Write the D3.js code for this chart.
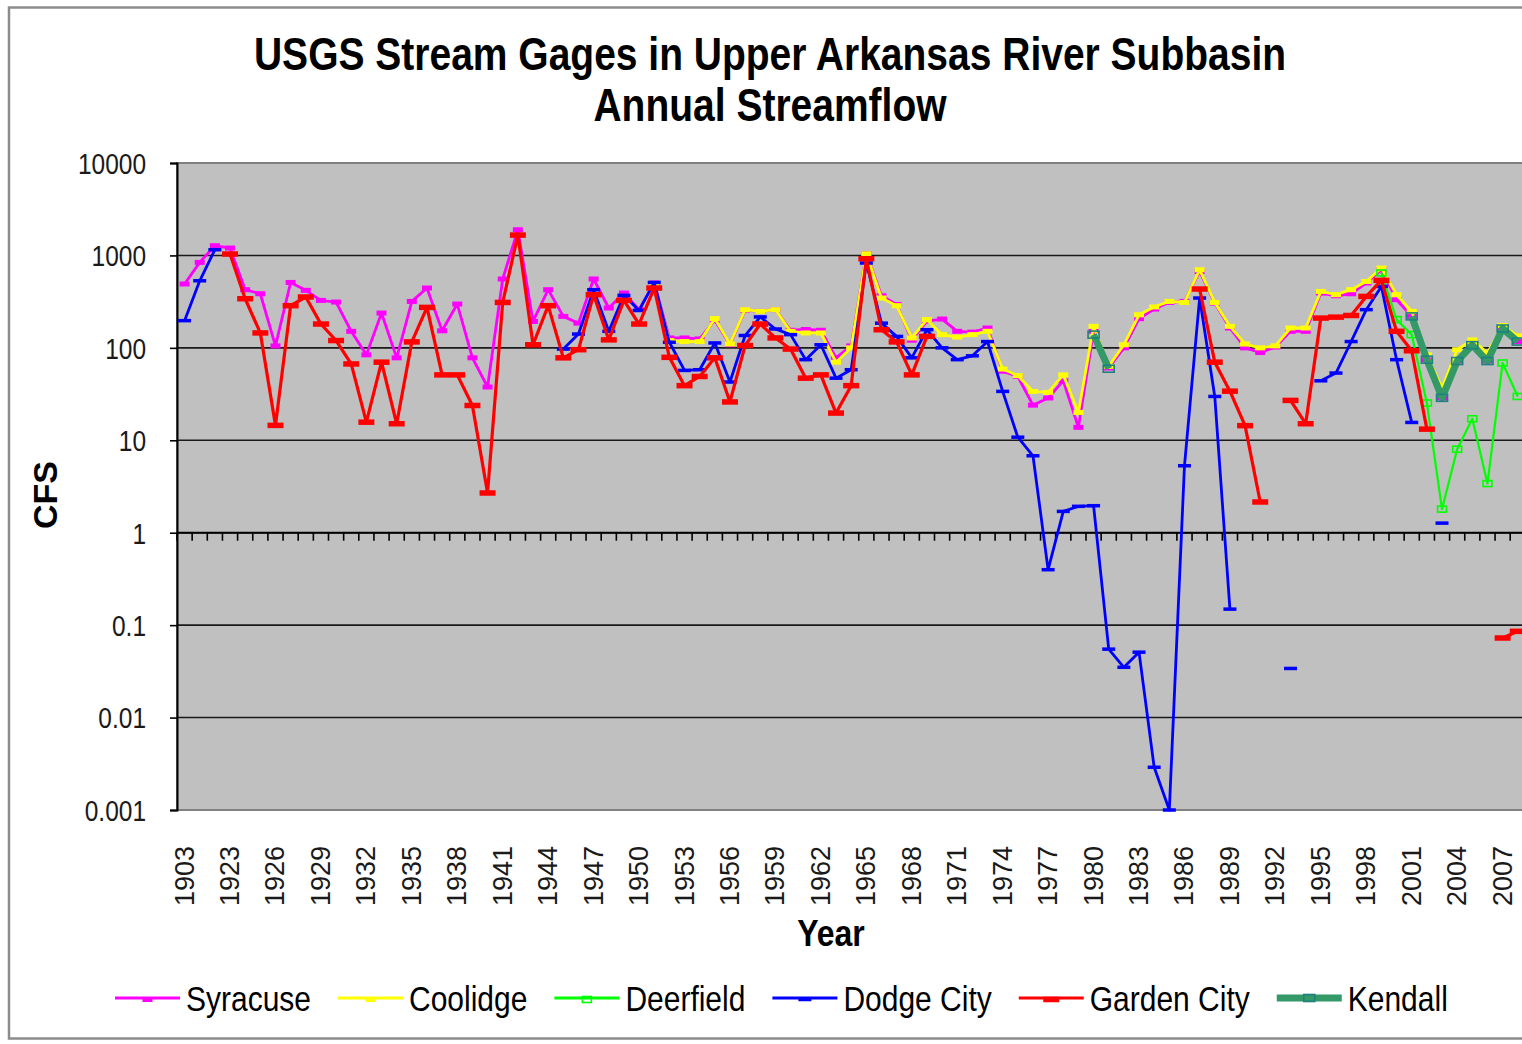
<!DOCTYPE html>
<html>
<head>
<meta charset="utf-8">
<script src="https://cdn.jsdelivr.net/npm/d3@7"></script>
<style>
  body { margin: 0; background: #fff; overflow: hidden; }
  text { font-family: "Liberation Sans", Arial, sans-serif; }
</style>
</head>
<body>
<script>
//Define data
let years = [
  '1903', '1904', '1922', '1923', '1924', '1925', '1926', '1927', '1928', '1929',
  '1930', '1931', '1932', '1933', '1934', '1935', '1936', '1937', '1938', '1939',
  '1940', '1941', '1942', '1943', '1944', '1945', '1946', '1947', '1948', '1949',
  '1950', '1951', '1952', '1953', '1954', '1955', '1956', '1957', '1958', '1959',
  '1960', '1961', '1962', '1963', '1964', '1965', '1966', '1967', '1968', '1969',
  '1970', '1971', '1972', '1973', '1974', '1975', '1976', '1977', '1978', '1979',
  '1980', '1981', '1982', '1983', '1984', '1985', '1986', '1987', '1988', '1989',
  '1990', '1991', '1992', '1993', '1994', '1995', '1996', '1997', '1998', '1999',
  '2000', '2001', '2002', '2003', '2004', '2005', '2006', '2007', '2008'
]

let syracuse = [
  491, 841, 1274, 1203, 426, 385, 105, 510, 419, 326,
  313, 151, 84, 238, 78, 318, 444, 153, 298, 78,
  37.7, 556, 1897, 193, 426, 219, 185, 556, 270, 392,
  259, 503, 128, 128, 125, 200, 108, 256, 248, 259,
  155, 158, 155, 78, 105, 1050, 366, 295, 121, 195,
  205, 151, 148, 164, 56, 49, 24, 28.7, 44, 13.8,
  151, 60.5, 100, 207, 263, 310, 318, 671, 305, 164,
  100, 89, 102, 151, 151, 392, 366, 385, 503, 700,
  332, 219, 74.5, 28.7, 72, 108, 72, 164, 117
]

let coolidge = [
  null, null, null, null, null, null, null, null, null, null,
  null, null, null, null, null, null, null, null, null, null,
  null, null, null, null, null, null, null, null, null, null,
  null, 480, 120, 117, 117, 207, 110, 259, 248, 259,
  151, 145, 145, 70, 100, 1043, 346, 286, 128, 202,
  139, 131, 139, 151, 59, 50, 33.8, 33, 51, 20,
  171, 63, 108, 228, 277, 318, 310, 700, 310, 171,
  110, 100, 105, 164, 164, 408, 376, 426, 523, 731,
  376, 248, 84, 36.8, 95.5, 122, 88, 174, 135
]

let deerfield = [
  null, null, null, null, null, null, null, null, null, null,
  null, null, null, null, null, null, null, null, null, null,
  null, null, null, null, null, null, null, null, null, null,
  null, null, null, null, null, null, null, null, null, null,
  null, null, null, null, null, null, null, null, null, null,
  null, null, null, null, null, null, null, null, null, null,
  null, null, null, null, null, null, null, null, null, null,
  null, null, null, null, null, null, null, null, null, 646,
  202, 139, 25.3, 1.8, 8.0, 17.1, 3.4, 68.6, 29.8
]

let dodgeCity = [
  197, 532, 1153, null, null, null, null, null, null, null,
  null, null, null, null, null, null, null, null, null, null,
  null, null, null, null, null, 97, 141, 426, 151, 370,
  254, 510, 115, 57, 58, 113, 42.7, 136, 216, 160,
  139, 74.5, 108, 47, 58, 828, 185, 133, 78, 157,
  100, 74.5, 82, 117, 33.8, 10.8, 6.8, 0.398, 1.7, 1.93,
  1.96, 0.055, 0.035, 0.051, 0.0029, 0.001, 5.3, 346, 29.8, 0.149,
  null, null, null, 0.034, null, 44, 53.4, 117, 259, 462,
  74.5, 15.6, null, 1.27, null, null, null, null, null
]

let gardenCity = [
  null, null, null, 1036, 340, 145, 14.5, 286, 355, 181,
  120, 67, 15.7, 70, 15.1, 116, 274, 51, 51, 23.8,
  2.69, 310, 1660, 108, 286, 78, 95.5, 376, 122, 326,
  181, 444, 79, 39, 49, 78, 26, 106, 181, 128,
  97, 47, 51, 19.7, 39, 921, 157, 116, 51, 133,
  null, null, null, null, null, null, null, null, null, null,
  null, null, null, null, null, null, null, 433, 70, 34,
  14.4, 2.15, null, 27, 15.1, 210, 215, 224, 360, 537,
  151, 93, 13.2, null, null, null, null, 0.0726, 0.0857
]

let kendall = [
  null, null, null, null, null, null, null, null, null, null,
  null, null, null, null, null, null, null, null, null, null,
  null, null, null, null, null, null, null, null, null, null,
  null, null, null, null, null, null, null, null, null, null,
  null, null, null, null, null, null, null, null, null, null,
  null, null, null, null, null, null, null, null, null, null,
  139, 59.5, null, null, null, null, null, null, null, null,
  null, null, null, null, null, null, null, null, null, null,
  null, 219, 74.5, 28.8, 72, 107, 72, 162, 117
]

let yTicks = [0.001, 0.01, 0.1, 1, 10, 100, 1000, 10000]
let yTickLabels = ['0.001', '0.01', '0.1', '1', '10', '100', '1000', '10000']

let width = 1522,
    height = 1044

let plot = { left: 177, top: 163, bottom: 810, band: 15.15 }
plot.right = plot.left + plot.band * years.length

// the text in the picture is drawn tall and narrow
let squash = 'scale(1,1.18)'

let svg = d3.select('body')
            .append('svg')
            .attr('width', width)
            .attr('height', height)

// chart frame
svg.append('rect')
  .attr('x', 9).attr('y', 7.5)
  .attr('width', 1700).attr('height', 1031)
  .attr('fill', 'white')
  .attr('stroke', '#8c8c8c')
  .attr('stroke-width', 2.5)

let xscale = d3.scaleBand()
              .domain(years)
              .range([plot.left, plot.right])

let yscale = d3.scaleLog()
              .domain([0.001, 10000])
              .range([plot.bottom, plot.top])

// plot area
svg.append('rect')
  .attr('x', plot.left).attr('y', plot.top)
  .attr('width', plot.right - plot.left)
  .attr('height', plot.bottom - plot.top)
  .attr('fill', '#c0c0c0')
  .attr('stroke', '#808080')
  .attr('stroke-width', 2)

// gridlines
svg.append('g')
  .selectAll('line')
  .data(yTicks.slice(1, -1))
  .join('line')
  .attr('x1', plot.left).attr('x2', plot.right)
  .attr('y1', d => yscale(d)).attr('y2', d => yscale(d))
  .attr('stroke', '#1a1a1a')
  .attr('stroke-width', 1.6)

// y axis
let yaxis = svg.append('g')
              .attr('transform', `translate(${plot.left},0)`)
              .call(d3.axisLeft(yscale)
                .tickValues(yTicks)
                .tickFormat((d, i) => yTickLabels[i])
                .tickSize(7)
                .tickPadding(24))
yaxis.select('.domain').attr('stroke', '#000').attr('stroke-width', 2)
yaxis.selectAll('.tick line').attr('stroke', '#000').attr('stroke-width', 1.6)
yaxis.selectAll('.tick text')
  .attr('font-size', 24.5)
  .attr('fill', '#1a1a1a')
  .attr('dy', '0.36em')
  .attr('transform', squash)

// category axis crosses at 1
let xAxisY = yscale(1)
svg.append('line')
  .attr('x1', plot.left).attr('x2', plot.right)
  .attr('y1', xAxisY).attr('y2', xAxisY)
  .attr('stroke', '#000').attr('stroke-width', 2)

svg.append('g')
  .selectAll('line')
  .data(years.concat(['end']))
  .join('line')
  .attr('x1', d => d === 'end' ? plot.right : xscale(d))
  .attr('x2', d => d === 'end' ? plot.right : xscale(d))
  .attr('y1', xAxisY).attr('y2', xAxisY + 8)
  .attr('stroke', '#000').attr('stroke-width', 1.6)

// category labels, every third
svg.append('g')
  .selectAll('text')
  .data(years.filter((d, i) => i % 3 === 0))
  .join('text')
  .text(d => d)
  .attr('transform', d => `translate(${xscale(d) + xscale.bandwidth() / 2 + 9},846) rotate(-90)`)
  .attr('text-anchor', 'end')
  .attr('font-size', 27)
  .attr('fill', '#1a1a1a')

// titles
svg.append('text')
  .text('USGS Stream Gages in Upper Arkansas River Subbasin')
  .attr('transform', `translate(770,70) ${squash}`)
  .attr('text-anchor', 'middle')
  .attr('font-size', 39)
  .attr('font-weight', 'bold')

svg.append('text')
  .text('Annual Streamflow')
  .attr('transform', `translate(770,121) ${squash}`)
  .attr('text-anchor', 'middle')
  .attr('font-size', 39)
  .attr('font-weight', 'bold')

svg.append('text')
  .text('Year')
  .attr('transform', `translate(831,946) ${squash}`)
  .attr('text-anchor', 'middle')
  .attr('font-size', 32)
  .attr('font-weight', 'bold')

svg.append('text')
  .text('CFS')
  .attr('transform', 'translate(57,495) rotate(-90)')
  .attr('text-anchor', 'middle')
  .attr('font-size', 34)
  .attr('font-weight', 'bold')

// series
let series = [
  { name: 'Syracuse', values: syracuse, color: '#ff00ff', lw: 2.8, marker: { w: 10, h: 5, fill: '#ff00ff', stroke: 'none' } },
  { name: 'Coolidge', values: coolidge, color: '#ffff00', lw: 2.8, marker: { w: 10, h: 5, fill: '#ffff00', stroke: 'none' } },
  { name: 'Deerfield', values: deerfield, color: '#00ff00', lw: 2.2, marker: { w: 9, h: 6, fill: 'none', stroke: '#00ff00' } },
  { name: 'Dodge City', values: dodgeCity, color: '#0000ff', lw: 2.8, marker: { w: 13, h: 3.5, fill: '#0000ff', stroke: 'none' } },
  { name: 'Garden City', values: gardenCity, color: '#ff0000', lw: 3.2, marker: { w: 16, h: 5.5, fill: '#ff0000', stroke: 'none' } },
  { name: 'Kendall', values: kendall, color: '#339966', lw: 7, marker: { w: 11, h: 7, fill: 'none', stroke: '#1e8080' } }
]

let line = d3.line()
            .defined(d => d.v != null)
            .x(d => xscale(d.cat) + xscale.bandwidth() / 2)
            .y(d => yscale(d.v))

series.forEach(s => {
  let pts = years.map((c, i) => ({ cat: c, v: s.values[i] }))
  let g = svg.append('g')
  g.append('path')
    .datum(pts)
    .attr('d', line)
    .attr('fill', 'none')
    .attr('stroke', s.color)
    .attr('stroke-width', s.lw)
    .attr('stroke-linejoin', 'round')
  g.selectAll('rect')
    .data(pts.filter(d => d.v != null))
    .join('rect')
    .attr('x', d => xscale(d.cat) + xscale.bandwidth() / 2 - s.marker.w / 2)
    .attr('y', d => yscale(d.v) - s.marker.h / 2)
    .attr('width', s.marker.w)
    .attr('height', s.marker.h)
    .attr('fill', s.marker.fill)
    .attr('stroke', s.marker.stroke)
    .attr('stroke-width', 1.6)
})

// legend
let legendY = 998
let lx = 115
series.forEach(s => {
  let g = svg.append('g')
  g.append('line')
    .attr('x1', lx).attr('x2', lx + 65)
    .attr('y1', legendY).attr('y2', legendY)
    .attr('stroke', s.color)
    .attr('stroke-width', s.lw === 7 ? 7 : 3)
  g.append('rect')
    .attr('x', lx + 32.5 - s.marker.w / 2)
    .attr('y', legendY - s.marker.h / 2 + (s.lw === 7 ? 0 : 1.5))
    .attr('width', s.marker.w)
    .attr('height', s.marker.h)
    .attr('fill', s.marker.fill)
    .attr('stroke', s.marker.stroke)
    .attr('stroke-width', 1.6)
  let t = g.append('text')
    .text(s.name)
    .attr('transform', `translate(${lx + 71},${legendY + 12.5}) ${squash}`)
    .attr('font-size', 30)
    .attr('fill', '#000')
  lx += 71 + t.node().getComputedTextLength() + 27
})
</script>
</body>
</html>
